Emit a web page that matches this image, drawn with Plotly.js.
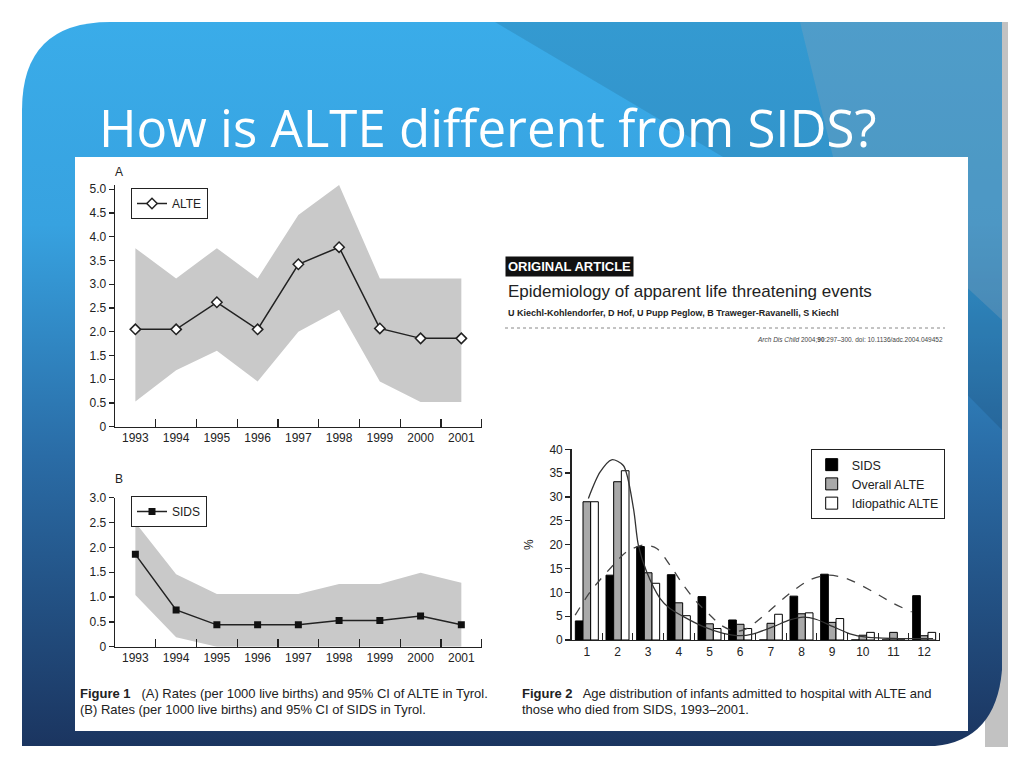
<!DOCTYPE html>
<html>
<head>
<meta charset="utf-8">
<script src="https://cdn.plot.ly/plotly-3.0.1.min.js"></script>
<style>html,body{margin:0;padding:0;background:#fff;}#chart{width:1024px;height:768px;}</style>
</head>
<body>
<div id="chart"></div>
<script>
// ---------- Figure 1 data ----------
const years = [1993, 1994, 1995, 1996, 1997, 1998, 1999, 2000, 2001];
const yearLabels = ['1993', '1994', '1995', '1996', '1997', '1998', '1999', '2000', '2001'];
const alteRate  = [2.05, 2.05, 2.62, 2.05, 3.42, 3.78, 2.07, 1.86, 1.86];
const alteUpper = [3.76, 3.12, 3.76, 3.12, 4.46, 5.09, 3.12, 3.12, 3.12];
const alteLower = [0.53, 1.19, 1.60, 0.95, 2.00, 2.46, 0.95, 0.52, 0.52];
const sidsRate  = [1.86, 0.74, 0.44, 0.44, 0.44, 0.53, 0.53, 0.62, 0.44];
const sidsUpper = [2.50, 1.46, 1.06, 1.06, 1.06, 1.26, 1.26, 1.49, 1.29];
const sidsLower = [1.04, 0.19, 0.00, 0.00, 0.00, 0.00, 0.00, 0.00, 0.00];
const alteTicks = [0, 0.5, 1.0, 1.5, 2.0, 2.5, 3.0, 3.5, 4.0, 4.5, 5.0];
const alteTickText = ['0', '0.5', '1.0', '1.5', '2.0', '2.5', '3.0', '3.5', '4.0', '4.5', '5.0'];
const sidsTicks = [0, 0.5, 1.0, 1.5, 2.0, 2.5, 3.0];
const sidsTickText = ['0', '0.5', '1.0', '1.5', '2.0', '2.5', '3.0'];

// ---------- Figure 2 data ----------
const months = [1, 2, 3, 4, 5, 6, 7, 8, 9, 10, 11, 12];
const monthLabels = ['1', '2', '3', '4', '5', '6', '7', '8', '9', '10', '11', '12'];
const sidsPct    = [4.0, 13.6, 19.6, 13.7, 9.1, 4.2, 0, 9.2, 13.8, 0, 0, 9.3];
const overallPct = [29.0, 33.2, 14.1, 7.8, 3.4, 3.3, 3.5, 5.5, 3.7, 1.0, 1.6, 0.9];
const idioPct    = [29.0, 35.5, 11.9, 5.1, 2.4, 2.4, 5.4, 5.7, 4.5, 1.6, 0, 1.6];
// fitted curves
const alteCurveX = [1.05, 1.43, 1.81, 2.19, 2.52, 2.68, 2.95, 3.39, 3.71, 4.15, 4.80, 5.45, 6.00, 6.43, 7.08, 7.62, 8.06, 8.49, 9.03, 9.58, 10.12, 11.2, 12.29];
const alteCurveY = [29.7, 35.2, 37.8, 36.6, 27.6, 19.9, 14.3, 8.7, 6.6, 4.9, 2.8, 1.4, 0.9, 1.3, 2.8, 4.2, 4.8, 4.3, 2.8, 1.3, 0.6, 0.3, 0.3];
const sidsCurveX = [0.62, 1.11, 1.76, 2.30, 2.84, 3.28, 3.71, 4.15, 4.58, 5.02, 5.40, 5.85, 6.21, 6.86, 7.62, 8.27, 8.87, 9.47, 10.34, 10.99, 11.59];
const sidsCurveY = [5.2, 10.1, 15.0, 18.5, 19.9, 19.2, 15.7, 11.5, 8.0, 5.2, 3.0, 1.8, 2.4, 5.6, 9.8, 12.6, 13.6, 12.9, 10.1, 7.7, 5.9];
const fig2Ticks = [0, 5, 10, 15, 20, 25, 30, 35, 40];

// ---------- texts ----------
const slideTitle = 'How is ALTE different from SIDS?';
const caption1a = '<b>Figure 1</b>   (A) Rates (per 1000 live births) and 95% CI of ALTE in Tyrol.';
const caption1b = '(B) Rates (per 1000 live births) and 95% CI of SIDS in Tyrol.';
const caption2a = '<b>Figure 2</b>   Age distribution of infants admitted to hospital with ALTE and';
const caption2b = 'those who died from SIDS, 1993–2001.';
const articleTag = '<b>ORIGINAL ARTICLE</b>';
const articleTitle = 'Epidemiology of apparent life threatening events';
const articleAuthors = '<b>U Kiechl-Kohlendorfer, D Hof, U Pupp Peglow, B Traweger-Ravanelli, S Kiechl</b>';
const articleCite = '<i>Arch Dis Child</i> 2004;<b>90</b>:297–300. doi: 10.1136/adc.2004.049452';

const F = 'Liberation Sans, Arial, sans-serif';
const ink = '#222222';
const band = '#c9c9c9';

const bg = `<svg xmlns="http://www.w3.org/2000/svg" width="1024" height="768" viewBox="0 0 1024 768">
<defs><linearGradient id="g" x1="0" y1="0" x2="0" y2="1">
<stop offset="0" stop-color="#3aace9"/><stop offset="0.28" stop-color="#37a2e0"/>
<stop offset="0.6" stop-color="#2a6ca6"/><stop offset="1" stop-color="#1b3560"/>
</linearGradient></defs>
<rect width="1024" height="768" fill="#ffffff"/>
<rect x="985" y="22" width="23" height="725" fill="#c2c2c2"/>
<path d="M22,746 L22,110 Q22,22 110,22 L1002,22 L1002,670 Q996,740 935,746 Z" fill="url(#g)"/>
<polygon points="495,22 1002,22 1002,430 745,170" fill="#000" fill-opacity="0.1"/>
<polygon points="800,22 1002,22 1002,320 835,165" fill="#8fa6b8" fill-opacity="0.3"/>
<rect x="75" y="157" width="893" height="574" fill="#ffffff"/>
</svg>`;

const px = v => v / 1024;
const py = v => 1 - v / 768;

const traces = [
  {x: years, y: alteLower, xaxis: 'x', yaxis: 'y', mode: 'lines', line: {width: 0}, showlegend: false, hoverinfo: 'skip'},
  {x: years, y: alteUpper, xaxis: 'x', yaxis: 'y', mode: 'lines', line: {width: 0}, fill: 'tonexty', fillcolor: band, showlegend: false, hoverinfo: 'skip'},
  {x: years, y: alteRate, xaxis: 'x', yaxis: 'y', mode: 'lines+markers', name: 'ALTE', legend: 'legend',
   line: {color: ink, width: 1.5}, marker: {symbol: 'diamond', size: 8, color: '#ffffff', line: {color: ink, width: 1.5}}},
  {x: years, y: sidsLower, xaxis: 'x2', yaxis: 'y2', mode: 'lines', line: {width: 0}, showlegend: false, hoverinfo: 'skip'},
  {x: years, y: sidsUpper, xaxis: 'x2', yaxis: 'y2', mode: 'lines', line: {width: 0}, fill: 'tonexty', fillcolor: band, showlegend: false, hoverinfo: 'skip'},
  {x: years, y: sidsRate, xaxis: 'x2', yaxis: 'y2', mode: 'lines+markers', name: 'SIDS', legend: 'legend2',
   line: {color: ink, width: 1.5}, marker: {symbol: 'square', size: 7, color: '#111111'}},
  {type: 'bar', x: months, y: sidsPct, xaxis: 'x3', yaxis: 'y3', name: 'SIDS', legend: 'legend3',
   marker: {color: '#000000', line: {color: '#000000', width: 1}}},
  {type: 'bar', x: months, y: overallPct, xaxis: 'x3', yaxis: 'y3', name: 'Overall ALTE', legend: 'legend3',
   marker: {color: '#a9a9a9', line: {color: '#000000', width: 1}}},
  {type: 'bar', x: months, y: idioPct, xaxis: 'x3', yaxis: 'y3', name: 'Idiopathic ALTE', legend: 'legend3',
   marker: {color: '#ffffff', line: {color: '#000000', width: 1}}},
  {x: alteCurveX, y: alteCurveY, xaxis: 'x3', yaxis: 'y3', mode: 'lines', showlegend: false,
   line: {color: '#333333', width: 1.3, shape: 'spline', smoothing: 0.8}},
  {x: sidsCurveX, y: sidsCurveY, xaxis: 'x3', yaxis: 'y3', mode: 'lines', showlegend: false,
   line: {color: '#444444', width: 1.3, dash: 'dash', shape: 'spline', smoothing: 0.8}}
];

const axBase = {showgrid: false, zeroline: false, showline: true, linecolor: ink, linewidth: 1.3,
  tickfont: {family: F, size: 12, color: ink}, fixedrange: true};
const yearAxis = dom => Object.assign({}, axBase, {
  domain: dom, range: [1992.5, 2001.5], tickmode: 'array', tickvals: years, ticktext: yearLabels, ticks: '',
  minor: {tickmode: 'array', tickvals: years.map(v => v + 0.5), ticks: 'inside', ticklen: 8, tickwidth: 1.3, tickcolor: ink}
});

const legendBase = {bgcolor: '#ffffff', bordercolor: ink, borderwidth: 1, font: {family: F, size: 12, color: ink},
  xanchor: 'left', yanchor: 'top', itemwidth: 30, tracegroupgap: 0};

const ann = (text, x, y, size, extra) => Object.assign({text: text, xref: 'paper', yref: 'paper', x: px(x), y: py(y),
  xanchor: 'left', yanchor: 'middle', showarrow: false, font: {family: F, size: size, color: ink}}, extra || {});

const layout = {
  width: 1024, height: 768,
  margin: {l: 0, r: 0, t: 0, b: 0},
  paper_bgcolor: '#ffffff', plot_bgcolor: '#ffffff',
  showlegend: true,
  barmode: 'group', bargap: 0.25, bargroupgap: 0,
  xaxis: Object.assign(yearAxis([px(115), px(481.7)]), {anchor: 'y'}),
  yaxis: Object.assign({}, axBase, {domain: [py(426.7), py(184.5)], range: [0, 5.1], anchor: 'x',
    tickmode: 'array', tickvals: alteTicks, ticktext: alteTickText, ticks: 'outside', ticklen: 5, tickwidth: 1.3, tickcolor: ink}),
  xaxis2: Object.assign(yearAxis([px(115), px(481.7)]), {anchor: 'y2'}),
  yaxis2: Object.assign({}, axBase, {domain: [py(646.7), py(497.7)], range: [0, 3.0], anchor: 'x2',
    tickmode: 'array', tickvals: sidsTicks, ticktext: sidsTickText, ticks: 'outside', ticklen: 5, tickwidth: 1.3, tickcolor: ink}),
  xaxis3: Object.assign({}, axBase, {domain: [px(571.5), px(939.5)], range: [0.5, 12.5], anchor: 'y3',
    tickmode: 'array', tickvals: months, ticktext: monthLabels, ticks: '',
    minor: {tickmode: 'array', tickvals: months.map(v => v + 0.5), ticks: 'inside', ticklen: 7, tickwidth: 1.2, tickcolor: ink}}),
  yaxis3: Object.assign({}, axBase, {domain: [py(640), py(449.3)], range: [0, 40], anchor: 'x3',
    tickmode: 'array', tickvals: fig2Ticks, ticks: 'outside', ticklen: 5, tickwidth: 1.3, tickcolor: ink}),
  legend: Object.assign({}, legendBase, {x: px(131), y: py(188)}),
  legend2: Object.assign({}, legendBase, {x: px(131), y: py(496)}),
  legend3: Object.assign({}, legendBase, {x: px(810.7), y: py(449), font: {family: F, size: 12.5, color: ink}}),
  images: [{source: 'data:image/svg+xml;charset=utf-8,' + encodeURIComponent(bg), xref: 'paper', yref: 'paper',
    x: 0, y: 1, sizex: 1, sizey: 1, xanchor: 'left', yanchor: 'top', sizing: 'stretch', layer: 'below'}],
  shapes: [
    {type: 'line', xref: 'paper', yref: 'paper', x0: px(505), x1: px(945), y0: py(328), y1: py(328),
     line: {color: '#888888', width: 1, dash: 'dot'}}
  ],
  annotations: [
    ann(slideTitle, 97, 127, 51, {font: {family: 'Open Sans, sans-serif', size: 51, color: '#ffffff'}}),
    ann('A', 113, 172, 12),
    ann('B', 113, 479, 12),
    ann('%', 529, 545, 12, {xanchor: 'center', textangle: -90}),
    ann(articleTag, 505, 266, 13, {bgcolor: '#111111', borderpad: 2, font: {family: F, size: 13, color: '#ffffff'}}),
    ann(articleTitle, 506, 291, 17),
    ann(articleAuthors, 506, 313, 9),
    ann(articleCite, 945, 340, 6.5, {xanchor: 'right', font: {family: F, size: 6.5, color: '#444444'}}),
    ann(caption1a, 78, 693, 13),
    ann(caption1b, 78, 709, 13),
    ann(caption2a, 520, 693, 13),
    ann(caption2b, 520, 709, 13)
  ]
};

Plotly.newPlot('chart', traces, layout, {displayModeBar: false, staticPlot: true});
</script>
</body>
</html>
